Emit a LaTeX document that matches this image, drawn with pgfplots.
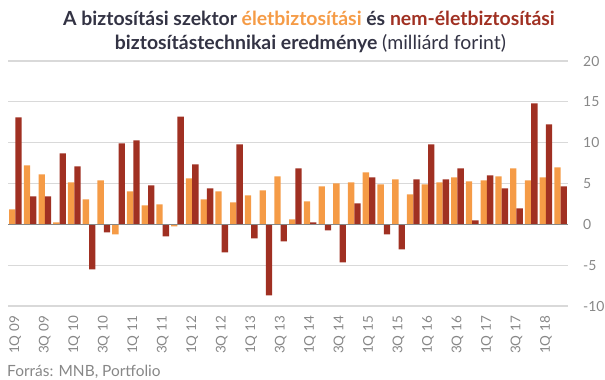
\documentclass[border=0pt]{standalone}
\usepackage{fontspec}
\setmainfont{Lato}
\newfontfamily\titlefont{Lato}
\usepackage{pgfplots}
\usepackage{pgfplotstable}
\pgfplotsset{compat=1.18}
\definecolor{orng}{RGB}{245,155,70}
\definecolor{dred}{RGB}{160,48,34}
\definecolor{tgray}{RGB}{51,51,68}
\definecolor{lgray}{RGB}{135,135,135}
\definecolor{gridc}{RGB}{217,217,217}

\pgfplotstableread{
x life non
0 1.84 13.1
1 7.22 3.43
2 6.12 3.43
3 0.24 8.69
4 5.14 7.1
5 3.06 -5.5
6 5.39 -0.98
7 -1.22 9.92
8 4.04 10.29
9 2.33 4.78
10 2.45 -1.47
11 -0.24 13.2
12 5.63 7.35
13 3.06 4.41
14 4.04 -3.43
15 2.69 9.8
16 3.55 -1.71
17 4.16 -8.69
18 5.88 -2.08
19 0.61 6.86
20 2.82 0.24
21 4.65 -0.73
22 5.02 -4.65
23 5.14 2.57
24 6.37 5.76
25 4.9 -1.22
26 5.51 -3.06
27 3.67 5.51
28 4.9 9.8
29 5.14 5.51
30 5.76 6.86
31 5.27 0.49
32 5.39 6.0
33 5.88 4.41
34 6.86 1.96
35 5.39 14.8
36 5.76 12.24
37 6.98 4.65
}\data

\begin{document}
\begin{tikzpicture}[x=1bp,y=1bp]
\useasboundingbox (0,0) rectangle (605,379);
\begin{axis}[
  at={(8bp,73bp)}, anchor=south west,
  scale only axis, width=560bp, height=245bp,
  xmin=-0.5, xmax=37.5, ymin=-10, ymax=20,
  axis line style={draw=none},
  major tick length=0pt,
  ymajorgrids, grid style={gridc, line width=1.2bp},
  ytick={-10,-5,0,5,10,15,20},
  yticklabels={-10,-5,0,5,10,15,20},
  yticklabel pos=right,
  yticklabel style={anchor=west, inner sep=0pt, xshift=15bp, font=\fontsize{14}{14}\selectfont, text=lgray},
  xtick={0,2,...,36},
  xticklabels={1Q 09,3Q 09,1Q 10,3Q 10,1Q 11,3Q 11,1Q 12,3Q 12,1Q 13,3Q 13,1Q 14,3Q 14,1Q 15,3Q 15,1Q 16,3Q 16,1Q 17,3Q 17,1Q 18},
  xticklabel style={rotate=90, anchor=east, inner sep=0pt, font=\fontsize{13.5}{13.5}\selectfont, text=lgray},
  xticklabel shift=10bp,
  clip=false,
]
\addplot[ybar, bar width=0.43, bar shift=-0.215, fill=orng, draw=none] table[x=x, y=life] {\data};
\addplot[ybar, bar width=0.43, bar shift=0.215, fill=dred, draw=none] table[x=x, y=non] {\data};
\draw[lgray, line width=1.5bp] (axis cs:-0.5,0) -- (axis cs:37.5,0);
\end{axis}
\node[anchor=base, inner sep=0pt, font=\titlefont\fontsize{19.5}{19.5}\selectfont\bfseries, text=tgray] at (309,353.3) {A biztosítási szektor \textcolor{orng}{életbiztosítási} és \textcolor{dred}{nem-életbiztosítási}};
\node[anchor=base, inner sep=0pt, font=\titlefont\fontsize{19.5}{19.5}\selectfont, text=tgray] at (310.5,329.7) {\textbf{biztosítástechnikai eredménye} (milliárd forint)};
\node[anchor=base west, inner sep=0pt, font=\fontsize{15.5}{15.5}\selectfont, text=lgray] at (7,2.5) {Forrás: MNB, Portfolio};
\end{tikzpicture}
\end{document}
